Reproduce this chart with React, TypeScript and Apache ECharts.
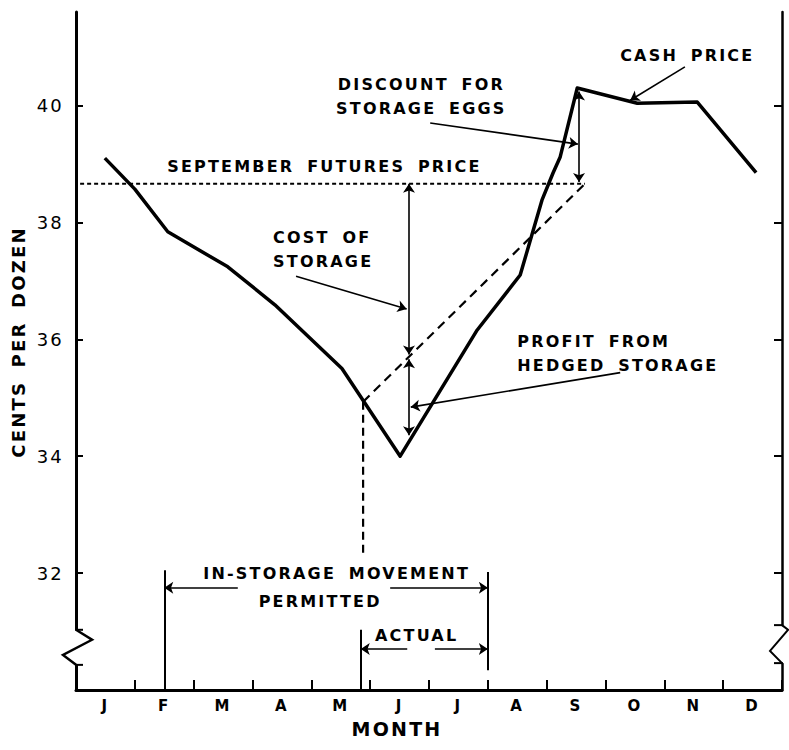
import React, { useEffect, useRef } from "react";
import * as echarts from "echarts";

// ---------- data ----------
const MONTHS = ["J", "F", "M", "A", "M", "J", "J", "A", "S", "O", "N", "D"];
const Y_TICKS = [32, 34, 36, 38, 40];
const Y_MIN = 30;
const Y_MAX = 41.6;

// cash price (x = months from 1 Jan, y = cents per dozen)
const CASH_X = [0.49, 1.0, 1.56, 2.58, 3.38, 4.52, 5.51, 6.82, 7.55, 7.92, 8.11, 8.23, 8.52, 9.54, 10.56, 11.56];
const CASH_Y = [39.1, 38.57, 37.84, 37.24, 36.59, 35.5, 34.0, 36.16, 37.1, 38.38, 38.85, 39.12, 40.3, 40.04, 40.06, 38.85];

// September futures price line
const FUTURES_PRICE = 38.66;
const FUTURES_FROM = 0.07;
const FUTURES_TO = 8.65;

// hedged storage line: into storage -> out of storage at futures price
const STORE_IN_X = 4.88;
const STORE_IN_Y = 34.93;
const STORE_IN_DROP_Y = 32.28;

// arrows
const COST_ARROW_X = 5.66;
const COST_ARROW = [38.66, 35.74];
const PROFIT_ARROW = [35.66, 34.36];
const DISCOUNT_ARROW_X = 8.55;
const DISCOUNT_ARROW = [40.24, 38.69];

// leader lines: [fromX, fromY, toX, toY]
const LEADERS = [
  [3.74, 37.08, 5.62, 36.52],
  [6.02, 39.7, 8.53, 39.34],
  [10.35, 40.66, 9.42, 40.09],
  [9.25, 35.43, 5.69, 34.84],
];

// in-storage movement periods
const PERMIT_START = 1.5;
const PERMIT_END = 7.0;
const ACTUAL_START = 4.84;
const PERMIT_LEVEL = 31.75;
const ACTUAL_LEVEL = 30.7;

// annotation texts
const NOTES = [
  { text: "SEPTEMBER FUTURES PRICE", x: 1.55, y: 38.965, align: "left" },
  { text: "DISCOUNT FOR\nSTORAGE EGGS", x: 5.87, y: 40.16, align: "center" },
  { text: "CASH PRICE", x: 10.39, y: 40.85, align: "center" },
  { text: "COST OF\nSTORAGE", x: 3.35, y: 37.545, align: "left" },
  { text: "PROFIT FROM\nHEDGED STORAGE", x: 7.5, y: 35.75, align: "left" },
  { text: "IN-STORAGE MOVEMENT", x: 4.43, y: 32.0, align: "center" },
  { text: "PERMITTED", x: 4.15, y: 31.506, align: "center" },
  { text: "ACTUAL", x: 5.79, y: 30.924, align: "center" },
];

// axis-break marks (values along the y axis)
const LEFT_BREAK = [31.03, 30.86, 30.6, 30.43];
const RIGHT_BREAK = [31.11, 31.03, 30.67, 30.46];

const W = 789;
const H = 750;
const GRID = { left: 76, right: 7, top: 12, bottom: 60 };
const FONT = "DejaVu Sans";

export default function App() {
  const ref = useRef<HTMLDivElement>(null);

  useEffect(() => {
    if (!ref.current) return;
    const chart = echarts.init(ref.current, null, { renderer: "svg" });

    const thin = { color: "#000", width: 1.6, opacity: 1 };
    const seg = (x1: number, y1: number, x2: number, y2: number) => ({ coords: [[x1, y1], [x2, y2]] });

    const option: any = {
      animation: false,
      backgroundColor: "#fff",
      textStyle: { fontFamily: FONT, color: "#000" },
      grid: { left: GRID.left, right: GRID.right, top: GRID.top, bottom: GRID.bottom, containLabel: false },
      xAxis: [
        {
          type: "category",
          data: MONTHS,
          boundaryGap: true,
          axisLine: { lineStyle: { color: "#000", width: 3 } },
          axisTick: { show: true, inside: true, length: 10, lineStyle: { color: "#000", width: 2 } },
          axisLabel: { fontSize: 15, fontWeight: "bold", color: "#000", margin: 8, lineHeight: 16, fontFamily: FONT },
          splitLine: { show: false },
        },
        { type: "value", min: 0, max: 12, show: false },
      ],
      yAxis: [
        {
          type: "value",
          min: Y_MIN,
          max: Y_MAX,
          interval: 2,
          position: "left",
          axisLine: { show: true, lineStyle: { color: "#000", width: 3 } },
          axisTick: { show: true, inside: true, length: 7, lineStyle: { color: "#000", width: 2 }, customValues: Y_TICKS },
          axisLabel: { fontSize: 18, color: "#000", margin: 12, fontFamily: FONT, customValues: Y_TICKS },
          splitLine: { show: false },
        },
        {
          type: "value",
          min: Y_MIN,
          max: Y_MAX,
          interval: 2,
          position: "right",
          axisLine: { show: true, lineStyle: { color: "#000", width: 2.5 } },
          axisTick: { show: true, inside: true, length: 8, lineStyle: { color: "#000", width: 2 }, customValues: Y_TICKS },
          axisLabel: { show: false },
          splitLine: { show: false },
        },
      ],
      series: [
        {
          name: "Cash price",
          type: "line",
          xAxisIndex: 1,
          yAxisIndex: 0,
          data: CASH_X.map((x, i) => [x, CASH_Y[i]]),
          showSymbol: false,
          symbol: "none",
          lineStyle: { color: "#000", width: 3.5, join: "round" },
          silent: true,
          z: 5,
        },
        {
          name: "Futures",
          type: "line",
          xAxisIndex: 1,
          data: [[FUTURES_FROM, FUTURES_PRICE], [FUTURES_TO, FUTURES_PRICE]],
          symbol: "none",
          lineStyle: { color: "#000", width: 2, type: [4, 3] },
          silent: true,
        },
        {
          name: "Hedge",
          type: "line",
          xAxisIndex: 1,
          data: [[STORE_IN_X, STORE_IN_Y], [FUTURES_TO, FUTURES_PRICE]],
          symbol: "none",
          lineStyle: { color: "#000", width: 2.2, type: [9, 6] },
          silent: true,
        },
        {
          name: "Store in",
          type: "line",
          xAxisIndex: 1,
          data: [[STORE_IN_X, STORE_IN_Y], [STORE_IN_X, STORE_IN_DROP_Y]],
          symbol: "none",
          lineStyle: { color: "#000", width: 2.2, type: [8, 5] },
          silent: true,
        },
        {
          name: "Double arrows",
          type: "lines",
          coordinateSystem: "cartesian2d",
          xAxisIndex: 1,
          yAxisIndex: 0,
          symbol: ["arrow", "arrow"],
          symbolSize: 9,
          lineStyle: thin,
          silent: true,
          data: [
            seg(COST_ARROW_X, COST_ARROW[0], COST_ARROW_X, COST_ARROW[1]),
            seg(COST_ARROW_X, PROFIT_ARROW[0], COST_ARROW_X, PROFIT_ARROW[1]),
            seg(DISCOUNT_ARROW_X, DISCOUNT_ARROW[0], DISCOUNT_ARROW_X, DISCOUNT_ARROW[1]),
          ],
        },
        {
          name: "Single arrows",
          type: "lines",
          coordinateSystem: "cartesian2d",
          xAxisIndex: 1,
          yAxisIndex: 0,
          symbol: ["none", "arrow"],
          symbolSize: 9,
          lineStyle: thin,
          silent: true,
          data: [
            ...LEADERS.map((l) => seg(l[0], l[1], l[2], l[3])),
            seg(2.75, PERMIT_LEVEL, PERMIT_START, PERMIT_LEVEL),
            seg(5.34, PERMIT_LEVEL, PERMIT_END, PERMIT_LEVEL),
            seg(5.63, ACTUAL_LEVEL, ACTUAL_START, ACTUAL_LEVEL),
            seg(6.1, ACTUAL_LEVEL, PERMIT_END, ACTUAL_LEVEL),
          ],
        },
        {
          name: "Brackets",
          type: "lines",
          coordinateSystem: "cartesian2d",
          xAxisIndex: 1,
          yAxisIndex: 0,
          symbol: ["none", "none"],
          lineStyle: { color: "#000", width: 2, opacity: 1 },
          silent: true,
          data: [
            seg(PERMIT_START, Y_MIN, PERMIT_START, 32.05),
            seg(PERMIT_END, 32.02, PERMIT_END, 30.34),
            seg(ACTUAL_START, 31.03, ACTUAL_START, Y_MIN),
          ],
        },
        {
          name: "Notes",
          type: "scatter",
          xAxisIndex: 1,
          yAxisIndex: 0,
          symbolSize: 1,
          itemStyle: { color: "rgba(0,0,0,0)" },
          silent: true,
          data: NOTES.map((n) => ({
            value: [n.x, n.y],
            name: n.text,
            label: { align: n.align },
          })),
          label: {
            show: true,
            position: "inside",
            formatter: "{b}",
            fontSize: 16,
            fontWeight: "bold",
            lineHeight: 24,
            color: "#000",
            opacity: 1,
            fontFamily: FONT,
            verticalAlign: "middle",
          },
        },
      ],
    };

    chart.setOption(option);

    const py = (v: number) => chart.convertToPixel({ yAxisIndex: 0 }, v) as number;
    const L = GRID.left;
    const R = W - GRID.right;
    const stroke = { stroke: "#000", lineWidth: 2.5, fill: "none" };

    chart.setOption({
      graphic: [
        {
          type: "rect",
          z: 100,
          shape: { x: L - 3, y: py(LEFT_BREAK[0]), width: 6, height: py(LEFT_BREAK[3]) - py(LEFT_BREAK[0]) },
          style: { fill: "#fff" },
        },
        {
          type: "polyline",
          z: 101,
          shape: {
            points: [
              [L, py(LEFT_BREAK[0])],
              [L + 16, py(LEFT_BREAK[1])],
              [L - 13, py(LEFT_BREAK[2])],
              [L, py(LEFT_BREAK[3])],
            ],
          },
          style: stroke,
        },
        { type: "line", z: 101, shape: { x1: L - 1, y1: py(LEFT_BREAK[0]), x2: L + 7, y2: py(LEFT_BREAK[0]) }, style: { stroke: "#000", lineWidth: 2 } },
        { type: "line", z: 101, shape: { x1: L - 1, y1: py(LEFT_BREAK[3]), x2: L + 7, y2: py(LEFT_BREAK[3]) }, style: { stroke: "#000", lineWidth: 2 } },
        {
          type: "rect",
          z: 100,
          shape: { x: R - 3, y: py(RIGHT_BREAK[0]), width: 6, height: py(RIGHT_BREAK[3]) - py(RIGHT_BREAK[0]) },
          style: { fill: "#fff" },
        },
        {
          type: "polyline",
          z: 101,
          shape: {
            points: [
              [R, py(RIGHT_BREAK[0])],
              [R + 6, py(RIGHT_BREAK[1])],
              [R - 12, py(RIGHT_BREAK[2])],
              [R, py(RIGHT_BREAK[3])],
            ],
          },
          style: { ...stroke, lineWidth: 2 },
        },
        { type: "line", z: 101, shape: { x1: R - 8, y1: py(RIGHT_BREAK[0]), x2: R + 1, y2: py(RIGHT_BREAK[0]) }, style: { stroke: "#000", lineWidth: 2 } },
        { type: "line", z: 101, shape: { x1: R - 8, y1: py(RIGHT_BREAK[3]), x2: R + 1, y2: py(RIGHT_BREAK[3]) }, style: { stroke: "#000", lineWidth: 2 } },
        {
          type: "text",
          z: 101,
          x: 18,
          y: 342,
          rotation: Math.PI / 2,
          style: {
            text: "CENTS PER DOZEN",
            fontSize: 18,
            fontWeight: "bold",
            fontFamily: FONT,
            fill: "#000",
            align: "center",
            verticalAlign: "middle",
          },
        },
        {
          type: "text",
          z: 101,
          x: 397,
          y: 729,
          style: {
            text: "MONTH",
            fontSize: 19,
            lineHeight: 20,
            fontWeight: "bold",
            fontFamily: FONT,
            fill: "#000",
            align: "center",
            verticalAlign: "middle",
          },
        },
      ],
    });

    return () => chart.dispose();
  }, []);

  return (
    <>
      <style>{`#eggchart text{letter-spacing:2.2px;word-spacing:5px}`}</style>
      <div
        id="eggchart"
        ref={ref}
        style={{ position: "absolute", left: 0, top: 0, width: W, height: H, background: "#fff" }}
      />
    </>
  );
}
